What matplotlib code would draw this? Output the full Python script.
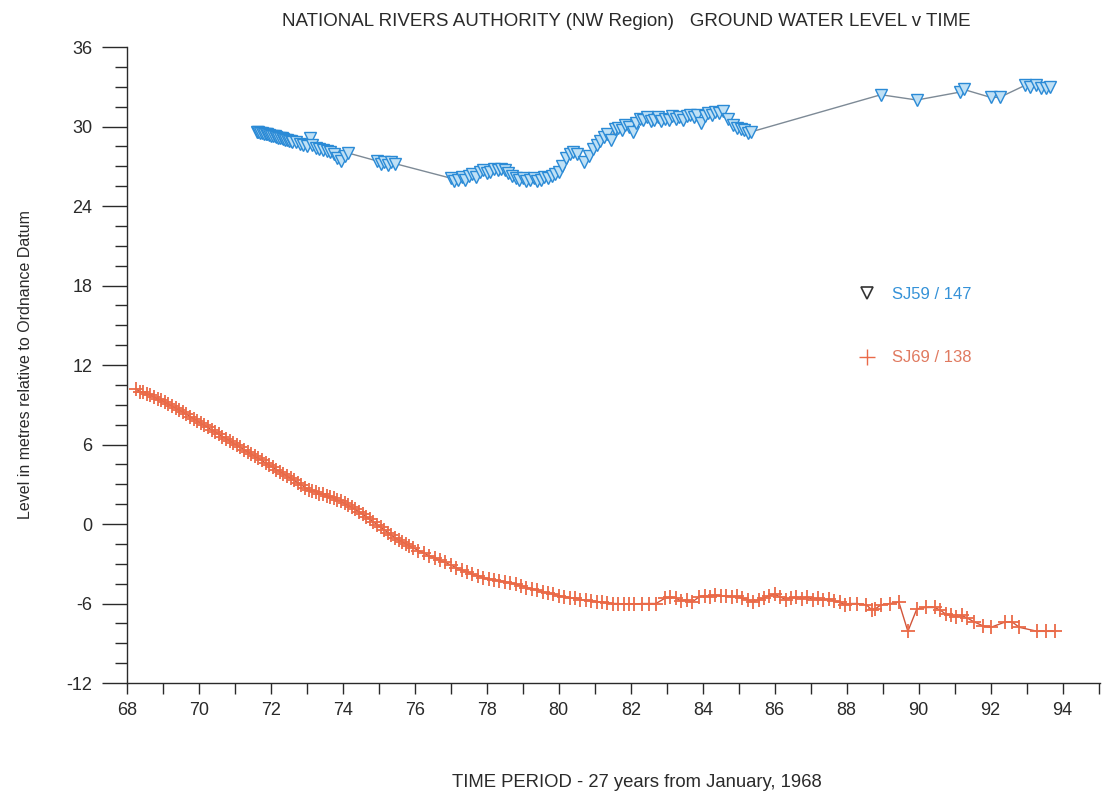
# Уровень грунтовых вод по двум скважинам (NRA, NW Region)
import matplotlib
matplotlib.use('Agg')
from matplotlib import pyplot as plt
from matplotlib.lines import Line2D
from matplotlib.ticker import MultipleLocator

plt.rcParams['font.family'] = ['Liberation Sans', 'DejaVu Sans']
plt.rcParams['axes.unicode_minus'] = False

# Скважина SJ59 / 147 (год, уровень)
sj59_year = [71.60, 71.65, 71.70, 71.75, 71.80, 71.85, 71.90, 71.95, 72.00, 72.05,
             72.10, 72.15, 72.20, 72.25, 72.30, 72.35, 72.40, 72.45, 72.50, 72.55,
             72.60, 72.70, 72.80, 72.90, 73.00, 73.10, 73.15, 73.25, 73.35, 73.45,
             73.55, 73.65, 73.75, 73.85, 73.95, 74.05, 74.15,
             74.95, 75.05, 75.15, 75.25, 75.35, 75.45,
             77.00, 77.10, 77.20, 77.30, 77.40, 77.50, 77.60, 77.70, 77.80, 77.90,
             78.00, 78.10, 78.20, 78.30, 78.40, 78.50, 78.60, 78.70, 78.80, 78.90,
             79.00, 79.10, 79.20, 79.30, 79.40, 79.50, 79.60, 79.70, 79.80, 79.90,
             80.00, 80.10, 80.20, 80.30, 80.40, 80.50, 80.70, 80.85, 80.95, 81.05,
             81.15, 81.25, 81.35, 81.45, 81.55, 81.65, 81.75, 81.85, 81.95, 82.05,
             82.15, 82.25, 82.35, 82.45, 82.55, 82.65, 82.75, 82.85, 82.95, 83.05,
             83.15, 83.25, 83.35, 83.45, 83.55, 83.65, 83.75, 83.85, 83.95, 84.05,
             84.15, 84.25, 84.35, 84.45, 84.55, 84.70, 84.85, 84.95, 85.05, 85.15,
             85.25, 85.35,
             88.95, 89.95, 91.15, 91.25, 92.00, 92.25, 92.95, 93.10, 93.25, 93.40,
             93.55, 93.65]
sj59_level = [29.6, 29.55, 29.5, 29.5, 29.45, 29.4, 29.4, 29.35, 29.3, 29.3,
              29.25, 29.2, 29.15, 29.1, 29.1, 29.05, 29.0, 28.95, 28.9, 28.9,
              28.85, 28.8, 28.7, 28.6, 28.5, 29.1, 28.6, 28.4, 28.3, 28.2,
              28.15, 28.1, 27.9, 27.6, 27.4, 27.8, 28.0,
              27.4, 27.2, 27.3, 27.1, 27.3, 27.2,
              26.1, 25.9, 26.0, 26.2, 26.0, 26.3, 26.4, 26.2, 26.6, 26.7,
              26.5, 26.6, 26.8, 26.7, 26.8, 26.7, 26.5, 26.3, 26.1, 26.0,
              26.1, 25.9, 26.0, 26.1, 25.9, 26.0, 26.2, 26.1, 26.3, 26.4,
              26.6, 27.0, 27.6, 27.9, 28.1, 27.9, 27.3, 27.8, 28.3, 28.6,
              28.9, 29.2, 29.4, 29.0, 29.8, 29.9, 29.7, 30.1, 30.0, 29.6,
              30.3, 30.6, 30.5, 30.7, 30.4, 30.5, 30.7, 30.4, 30.6, 30.5,
              30.8, 30.6, 30.7, 30.5, 30.8, 30.9, 30.7, 30.9, 30.3, 30.8,
              31.0, 30.9, 31.1, 31.0, 31.2, 30.6, 30.1, 29.9, 29.8, 29.7,
              29.5, 29.6,
              32.4, 32.0, 32.6, 32.8, 32.2, 32.2, 33.1, 33.0, 33.1, 32.9,
              32.9, 33.0]

# Скважина SJ69 / 138 (год, уровень)
sj69_year = [68.25, 68.35, 68.45, 68.55, 68.65, 68.75, 68.85, 68.95, 69.05, 69.15,
             69.25, 69.35, 69.45, 69.55, 69.65, 69.75, 69.85, 69.95, 70.05, 70.15,
             70.25, 70.35, 70.45, 70.55, 70.65, 70.75, 70.85, 70.95, 71.05, 71.15,
             71.25, 71.35, 71.45, 71.55, 71.65, 71.75, 71.85, 71.95, 72.05, 72.15,
             72.25, 72.35, 72.45, 72.55, 72.65, 72.75, 72.85, 72.95, 73.05, 73.15,
             73.25, 73.35, 73.45, 73.55, 73.65, 73.75, 73.85, 73.95, 74.05, 74.15,
             74.25, 74.35, 74.45, 74.55, 74.65, 74.75, 74.85, 74.95, 75.05, 75.15,
             75.25, 75.35, 75.45, 75.55, 75.65, 75.75, 75.85, 75.95, 76.10, 76.25,
             76.40, 76.55, 76.70, 76.85, 77.00, 77.15, 77.30, 77.45, 77.60, 77.75,
             77.90, 78.05, 78.20, 78.35, 78.50, 78.65, 78.80, 78.95, 79.10, 79.25,
             79.40, 79.55, 79.70, 79.85, 80.00, 80.15, 80.30, 80.45, 80.60, 80.75,
             80.90, 81.05, 81.20, 81.35, 81.50, 81.65, 81.80, 81.95, 82.10, 82.30,
             82.50, 82.70, 82.95, 83.10, 83.25, 83.40, 83.55, 83.70, 83.90, 84.05,
             84.20, 84.35, 84.50, 84.65, 84.80, 84.95, 85.10, 85.25, 85.40, 85.55,
             85.70, 85.85, 86.00, 86.15, 86.30, 86.45, 86.60, 86.75, 86.90, 87.05,
             87.20, 87.35, 87.50, 87.65, 87.80, 87.95, 88.10, 88.30, 88.55, 88.70,
             88.80, 88.95, 89.20, 89.45, 89.70, 89.95, 90.20, 90.45, 90.60, 90.75,
             90.90, 91.05, 91.20, 91.35, 91.55, 91.80, 92.00, 92.40, 92.60, 92.80,
             93.30, 93.55, 93.80]
sj69_level = [10.2, 10.0, 9.95, 9.85, 9.7, 9.6, 9.45, 9.35, 9.2, 9.05,
              8.9, 8.75, 8.6, 8.45, 8.3, 8.1, 7.95, 7.8, 7.6, 7.45,
              7.3, 7.1, 6.95, 6.8, 6.6, 6.45, 6.3, 6.1, 5.95, 5.8,
              5.6, 5.45, 5.3, 5.1, 4.95, 4.8, 4.6, 4.45, 4.3, 4.1,
              3.95, 3.8, 3.6, 3.45, 3.3, 3.1, 2.95, 2.75, 2.6, 2.5,
              2.4, 2.3, 2.25, 2.15, 2.05, 1.95, 1.8, 1.7, 1.55, 1.4,
              1.25, 1.1, 0.9, 0.75, 0.55, 0.35, 0.15, -0.05, -0.25, -0.45,
              -0.65, -0.85, -1.05, -1.2, -1.35, -1.5, -1.65, -1.8, -2.0, -2.2,
              -2.4, -2.55, -2.75, -2.9, -3.1, -3.3, -3.5, -3.6, -3.8, -3.9,
              -4.05, -4.15, -4.2, -4.3, -4.35, -4.45, -4.55, -4.65, -4.8, -4.9,
              -5.0, -5.1, -5.2, -5.3, -5.4, -5.5, -5.55, -5.6, -5.7, -5.75,
              -5.8, -5.85, -5.9, -5.95, -6.0, -6.0, -6.05, -6.0, -6.05, -6.0,
              -6.0, -6.0, -5.6, -5.5, -5.6, -5.8, -5.7, -5.9, -5.5, -5.4,
              -5.5, -5.35, -5.45, -5.4, -5.5, -5.45, -5.6, -5.7, -5.9, -5.7,
              -5.6, -5.4, -5.3, -5.5, -5.7, -5.6, -5.5, -5.65, -5.5, -5.7,
              -5.6, -5.75, -5.65, -5.8, -5.9, -6.1, -6.0, -6.0, -6.1, -6.5,
              -6.4, -6.1, -6.0, -5.9, -8.1, -6.4, -6.3, -6.3, -6.5, -6.8,
              -6.9, -7.0, -6.9, -7.1, -7.4, -7.7, -7.8, -7.4, -7.4, -7.8,
              -8.1, -8.1, -8.1]

x_ticks = list(range(68, 95, 2))
y_ticks = list(range(-12, 37, 6))

blue = '#2a8ad6'
blue_face = '#bfe0f5'
red = '#ea6a48'
ink = '#2a2a2a'

fig = plt.figure(figsize=(11.03, 7.93), dpi=100)
ax = fig.add_axes([0.1151, 0.1387, 0.8819, 0.802])

# Ряды данных
ax.plot(sj59_year, sj59_level, color='#7d8a96', lw=1.0, zorder=2)
ax.plot(sj59_year, sj59_level, ls='none', marker='v', ms=8,
        mfc=blue_face, mec=blue, mew=1.0, zorder=3)
ax.plot(sj69_year, sj69_level, color='#d2553a', lw=1.0, zorder=2)
ax.plot(sj69_year, sj69_level, ls='none', marker='+', ms=10,
        mec=red, mew=1.3, zorder=3)

# Оси и шкалы
ax.set_xlim(68, 95.03)
ax.set_ylim(-12, 36)
ax.set_xticks(x_ticks)
ax.xaxis.set_minor_locator(MultipleLocator(1))
ax.set_yticks(y_ticks)
ax.yaxis.set_minor_locator(MultipleLocator(1.5))
ax.spines['top'].set_visible(False)
ax.spines['right'].set_visible(False)
for s in ('left', 'bottom'):
    ax.spines[s].set_linewidth(1.0)
    ax.spines[s].set_color(ink)
ax.tick_params(axis='x', which='both', direction='out', length=8, width=1,
               color=ink, labelsize=13, pad=6, labelcolor=ink)
ax.tick_params(axis='y', which='major', direction='out', length=18, width=1,
               color=ink, labelsize=13, pad=7, labelcolor=ink)
ax.tick_params(axis='y', which='minor', direction='out', length=9, width=1,
               color=ink)

ax.set_title('NATIONAL RIVERS AUTHORITY (NW Region)   GROUND WATER LEVEL v TIME',
             fontsize=13.5, pad=15, color=ink, x=0.513)
ax.set_xlabel('TIME PERIOD - 27 years from January, 1968',
              fontsize=13.3, labelpad=40, color=ink)
ax.xaxis.set_label_coords(0.524, -0.143)
ax.set_ylabel('Level in metres relative to Ordnance Datum',
              fontsize=11.5, labelpad=24, color=ink)

# Легенда
handles = [Line2D([], [], ls='none', marker='v', ms=8, mfc='white',
                  mec='#333333', mew=1.2),
           Line2D([], [], ls='none', marker='+', ms=12, mec=red, mew=1.0)]
ax.legend(handles, ['SJ59 / 147', 'SJ69 / 138'], loc='upper left',
          bbox_to_anchor=(0.735, 0.646), frameon=False, fontsize=12,
          labelspacing=2.9, handletextpad=0.9, handlelength=1.2,
          labelcolor=['#3592d8', '#e07a60'])

fig.savefig('out.png', dpi=100)
